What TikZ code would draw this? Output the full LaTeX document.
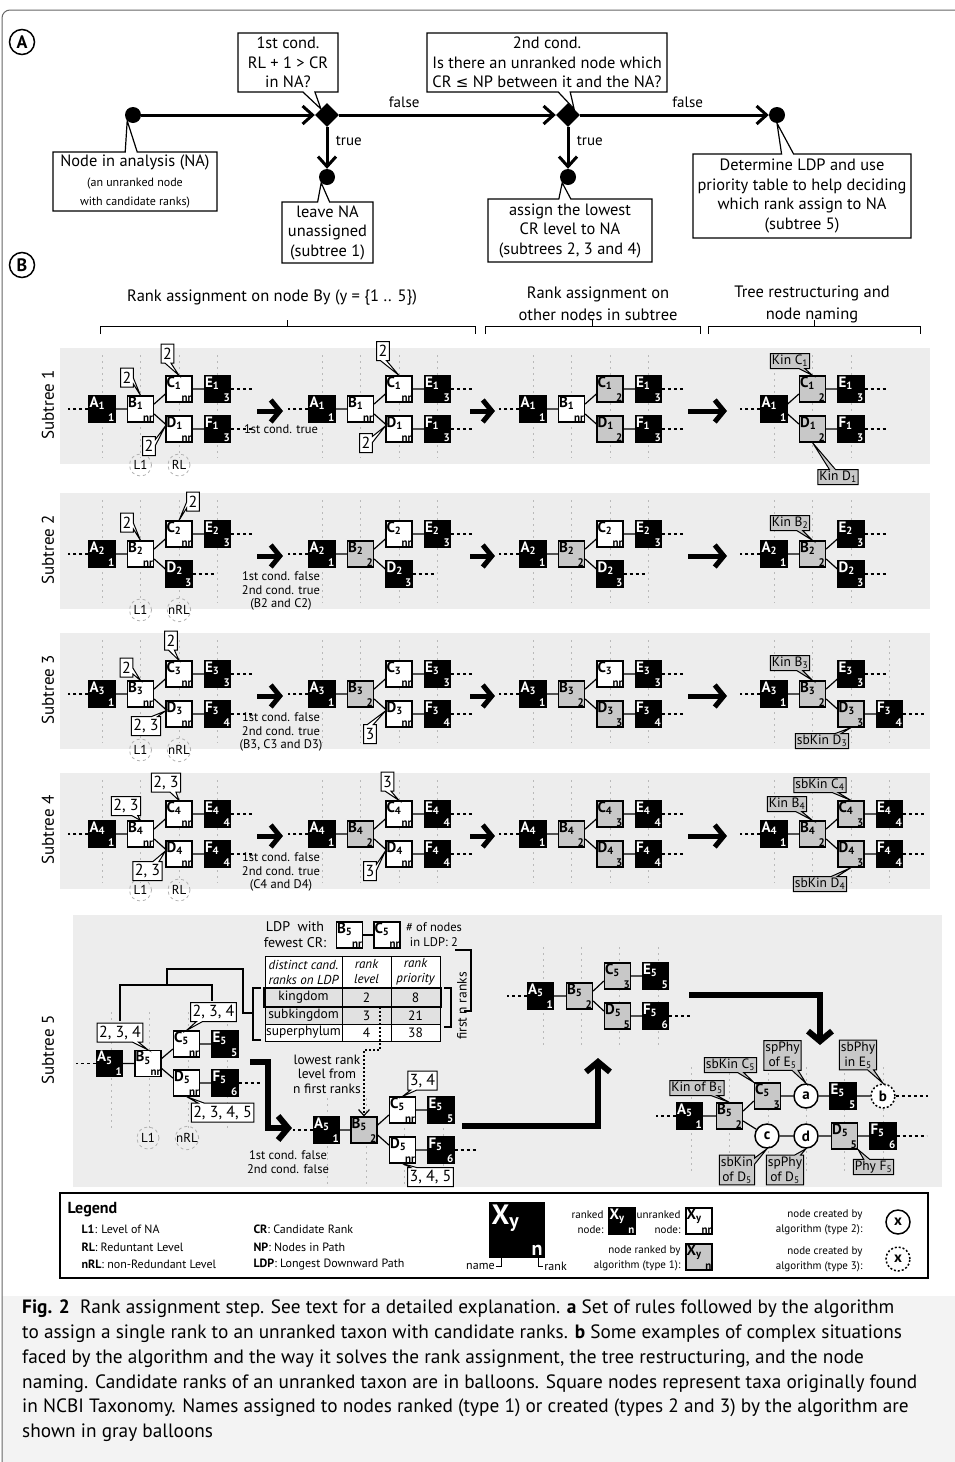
\documentclass[tikz,border=0pt]{standalone}
\usepackage{fontspec}
\setmainfont{PT Sans}
\newfontfamily\symfont{DejaVu Sans}
\usetikzlibrary{arrows.meta,shapes.geometric,shapes.callouts,positioning}

\newcommand{\fsz}[2]{\fontsize{#1}{#2}\selectfont}
\definecolor{bggray}{HTML}{EDEDED}
\definecolor{agray}{HTML}{C8C8C8}
\definecolor{capgray}{HTML}{F3F3F3}

\tikzset{
  taxon/.style={minimum size=26pt, inner sep=0pt, draw=black, line width=1.2pt},
  rk/.style={taxon, fill=black},
  nr/.style={taxon, fill=white},
  ag/.style={taxon, fill=agray},
  tname/.style={anchor=north west, inner sep=1pt, font=\fsz{15}{15}\bfseries},
  trank/.style={anchor=south east, inner sep=1pt, font=\fsz{11}{11}\bfseries},
  edge/.style={line width=1.2pt},
  dashline/.style={line width=1.2pt, dash pattern=on 3pt off 3pt},
  vgrid/.style={line width=0.8pt, gray!55, dash pattern=on 2pt off 4pt},
  lvl/.style={circle, draw=gray!60, dashed, line width=0.8pt, minimum size=22pt, inner sep=0pt, font=\fsz{13}{13}},
  bal/.style={rectangle callout, draw=black, fill=white, line width=1pt, inner sep=2pt,
    minimum height=19pt, font=\fsz{16}{16}, callout pointer width=6pt},
  gbal/.style={bal, fill=agray, minimum height=15pt, inner sep=1.5pt, align=center, font=\fsz{13.5}{15}},
  abal/.style={rectangle callout, draw=black, fill=white, line width=1.2pt, align=center,
    inner sep=2pt, callout pointer width=12pt, font=\fsz{16.4}{19.5}},
  flow/.style={line width=3pt, -{Straight Barb[length=10pt,width=18pt]}},
  bigarrow/.style={line width=5pt, -{Straight Barb[length=9pt,width=22pt]}},
  hugearrow/.style={line width=6pt, -{Straight Barb[length=10pt,width=24pt]}},
  dotarrow/.style={line width=1.2pt, dash pattern=on 2pt off 2pt, -{Straight Barb[length=6pt,width=11pt]}},
  dot/.style={circle, fill=black, minimum size=16pt, inner sep=0pt},
  cond/.style={diamond, fill=black, minimum width=24pt, minimum height=24pt, inner sep=0pt},
  newn/.style={circle, draw=black, fill=white, line width=1.5pt, minimum size=24pt, inner sep=0pt, font=\fsz{15}{15}\bfseries},
  part/.style={circle, draw=black, line width=1.5pt, minimum size=25pt, inner sep=0pt, font=\fsz{18}{18}\bfseries},
  rowlab/.style={rotate=90, font=\fsz{17}{17}},
  note/.style={align=center, font=\fsz{12.5}{13.5}},
  head/.style={align=center, font=\fsz{16.5}{22}},
  lgtext/.style={align=right, anchor=east, font=\fsz{11}{15}},
  flowlab/.style={font=\fsz{15}{15}}
}

% taxa: name, position, letter, index (, rank)
\newcommand{\rnode}[5]{%
  \node[rk] (#1) at (#2) {};
  \node[tname, text=white] at (#1.north west) {#3\textsubscript{#4}};
  \node[trank, text=white] at (#1.south east) {#5};}
\newcommand{\unode}[4]{%
  \node[nr] (#1) at (#2) {};
  \node[tname] at (#1.north west) {#3\textsubscript{#4}};
  \node[trank] at (#1.south east) {nr};}
\newcommand{\anode}[5]{%
  \node[ag] (#1) at (#2) {};
  \node[tname] at (#1.north west) {#3\textsubscript{#4}};
  \node[trank] at (#1.south east) {#5};}
\newcommand{\sixedges}[1]{%
  \draw[edge] (a#1) -- (b#1) (b#1.20) -- (c#1.200) (b#1.340) -- (d#1.160) (c#1) -- (e#1) (d#1) -- (f#1);
  \draw[dashline] (a#1.west) -- ++(-20,0) (e#1.east) -- ++(23,0) (f#1.east) -- ++(23,0);}

\begin{document}
\begin{tikzpicture}[x=1pt, y=-1pt]
\useasboundingbox (0,0) rectangle (955,1462);

% frame and caption background
\fill[capgray] (2,1296) rectangle (955,1462);
\draw[line width=1pt, gray!80!black, rounded corners=8pt] (955,10) -- (2,10) -- (2,1462);

% ===================== A =====================
\node[part] (pA) at (22,42) {A};
\node[dot] (dNA) at (133,115) {};
\node[cond] (dC1) at (327,115) {};
\node[cond] (dC2) at (568,115) {};
\node[dot] (dLDP) at (777,115) {};
\node[dot] (dS1) at (327,177) {};
\node[dot] (dS24) at (568,177) {};
\draw[flow] (dNA) -- (dC1);
\draw[flow] (dC1) -- (dC2) node[pos=0.3, above=2pt, flowlab] (f1) {false};
\draw[flow] (dC2) -- (dLDP) node[pos=0.57, above=2pt, flowlab] (f2) {false};
\draw[flow] (dC1) -- (dS1) node[pos=0.33, right=4pt, flowlab] (t1) {true};
\draw[flow] (dC2) -- (dS24) node[pos=0.33, right=4pt, flowlab] (t2) {true};

\node[abal, minimum width=100pt, minimum height=59pt, callout absolute pointer={(dC1.north west)}] (bQ1) at (288,62.5)
  {1st cond.\\RL + 1 > CR\\in NA?};
\node[abal, minimum width=240pt, minimum height=59pt, callout absolute pointer={(dC2.north east)}] (bQ2) at (547,62.5)
  {2nd cond.\\Is there an unranked node which\\CR {\symfont\fsz{15}{19.5}≤} NP between it and the NA?};
\node[abal, minimum width=164pt, minimum height=59pt, callout absolute pointer={(dNA.south west)}] (bNA) at (135,181.5)
  {\fsz{16.4}{17}Node in analysis (NA)\\\fsz{12}{14}(an unranked node\\\fsz{12}{14}with candidate ranks)};
\node[abal, minimum width=91pt, minimum height=61pt, callout absolute pointer={(dS1.south west)}] (bS1) at (327.5,232.5)
  {leave NA\\unassigned\\(subtree 1)};
\node[abal, minimum width=164pt, minimum height=63pt, callout absolute pointer={(dS24.south west)}] (bS24) at (570,230.5)
  {assign the lowest\\CR level to NA\\(subtrees 2, 3 and 4)};
\node[abal, minimum width=218pt, minimum height=84pt, callout absolute pointer={(dLDP.south)}] (bLDP) at (802,196)
  {Determine LDP and use\\priority table to help deciding\\which rank assign to NA\\(subtree 5)};

% ===================== B =====================
\node[part] (pB) at (22,265) {B};
\node[head] (h1) at (272,298) {Rank assignment on node By (y = \{1 .. 5\})};
\node[head] (h2) at (598,304) {Rank assignment on\\other nodes in subtree};
\node[head] (h3) at (812,304) {Tree restructuring and\\node naming};
\draw[line width=1pt] (100,334) -- (100,326) -- (475,326) -- (475,334) (287.5,326) -- (287.5,320);
\draw[line width=1pt] (485,334) -- (485,326) -- (700,326) -- (700,334) (592.5,326) -- (592.5,320);
\draw[line width=1pt] (708,334) -- (708,326) -- (920,326) -- (920,334) (814,326) -- (814,320);

% row backgrounds, labels, level grid
\foreach \t/\n/\lv in {348/1/RL, 493/2/nRL, 633/3/nRL, 773/4/RL} {
  \fill[bggray] (60,\t) rectangle (930,\t+116);
  \node[rowlab] (lab\n) at (48,\t+57) {Subtree \n};
  \foreach \g in {102,322,533}
    \foreach \i in {0,...,3}
      \draw[vgrid] (\g+38.5*\i,\t+7) -- (\g+38.5*\i,\t+110);
  \node[lvl] (lone\n) at (140.5,\t+117) {L1};
  \node[lvl] (lrl\n) at (179,\t+117) {\lv};
  \draw[bigarrow] (257,\t+63) -- (283,\t+63);
  \draw[bigarrow] (470,\t+63) -- (495,\t+63);
  \draw[bigarrow] (688,\t+63) -- (727,\t+63);
}
\foreach \t/\m in {348/2, 493/2, 633/3, 773/3}
  \foreach \i in {0,...,\m}
    \draw[vgrid] (774+38.5*\i,\t+7) -- (774+38.5*\i,\t+110);

% ---------- Subtree 1 ----------
\rnode{a11}{102,409}{A}{1}{1}   \unode{b11}{140.5,409}{B}{1}
\unode{c11}{179,389}{C}{1}      \unode{d11}{179,429}{D}{1}
\rnode{e11}{217.5,389}{E}{1}{3} \rnode{f11}{217.5,429}{F}{1}{3}
\rnode{a12}{322,409}{A}{1}{1}   \unode{b12}{360.5,409}{B}{1}
\unode{c12}{399,389}{C}{1}      \unode{d12}{399,429}{D}{1}
\rnode{e12}{437.5,389}{E}{1}{3} \rnode{f12}{437.5,429}{F}{1}{3}
\rnode{a13}{533,409}{A}{1}{1}   \unode{b13}{571.5,409}{B}{1}
\anode{c13}{610,389}{C}{1}{2}   \anode{d13}{610,429}{D}{1}{2}
\rnode{e13}{648.5,389}{E}{1}{3} \rnode{f13}{648.5,429}{F}{1}{3}
\foreach \g in {11,12,13} {\sixedges{\g}}
\rnode{a14}{774,409}{A}{1}{1}
\anode{c14}{812.5,389}{C}{1}{2} \anode{d14}{812.5,429}{D}{1}{2}
\rnode{e14}{851,389}{E}{1}{3}   \rnode{f14}{851,429}{F}{1}{3}
\draw[edge] (a14.20) -- (c14.200) (a14.340) -- (d14.160) (c14) -- (e14) (d14) -- (f14);
\draw[dashline] (a14.west) -- ++(-20,0) (e14.east) -- ++(23,0) (f14.east) -- ++(23,0);
\node[note] (n1) at (281,429) {1st cond. true};
\node[bal, callout absolute pointer={(b11.north)}] (q11b) at (127,377.5) {2};
\node[bal, callout absolute pointer={(c11.north)}] (q11c) at (167.5,353.5) {2};
\node[bal, callout absolute pointer={([yshift=3pt]d11.west)}] (q11d) at (149,446) {2};
\node[bal, callout absolute pointer={(c12.north)}] (q12c) at (383,351) {2};
\node[bal, callout absolute pointer={([yshift=3pt]d12.west)}] (q12d) at (366,443) {2};
\node[gbal, callout absolute pointer={(c14.north)}] (k14c) at (790,361) {Kin C\textsubscript{1}};
\node[gbal, callout absolute pointer={(d14.south)}] (k14d) at (838,477) {Kin D\textsubscript{1}};

% ---------- Subtree 2 ----------
\rnode{a21}{102,554}{A}{2}{1}   \unode{b21}{140.5,554}{B}{2}
\unode{c21}{179,534}{C}{2}      \rnode{d21}{179,574}{D}{2}{3}
\rnode{e21}{217.5,534}{E}{2}{3}
\rnode{a22}{322,554}{A}{2}{1}   \anode{b22}{360.5,554}{B}{2}{2}
\unode{c22}{399,534}{C}{2}      \rnode{d22}{399,574}{D}{2}{3}
\rnode{e22}{437.5,534}{E}{2}{3}
\rnode{a23}{533,554}{A}{2}{1}   \anode{b23}{571.5,554}{B}{2}{2}
\unode{c23}{610,534}{C}{2}      \rnode{d23}{610,574}{D}{2}{3}
\rnode{e23}{648.5,534}{E}{2}{3}
\foreach \g in {21,22,23} {
  \draw[edge] (a\g) -- (b\g) (b\g.20) -- (c\g.200) (b\g.340) -- (d\g.160) (c\g) -- (e\g);
  \draw[dashline] (a\g.west) -- ++(-20,0) (e\g.east) -- ++(23,0) (d\g.east) -- ++(23,0);
}
\rnode{a24}{774,554}{A}{2}{1}   \anode{b24}{812.5,554}{B}{2}{2}
\rnode{e24}{851,534}{E}{2}{3}   \rnode{d24}{851,574}{D}{2}{3}
\draw[edge] (a24) -- (b24) (b24.20) -- (e24.200) (b24.340) -- (d24.160);
\draw[dashline] (a24.west) -- ++(-20,0) (e24.east) -- ++(23,0) (d24.east) -- ++(23,0);
\node[note] (n2) at (281,591) {1st cond. false\\2nd cond. true\\(B2 and C2)};
\node[bal, callout absolute pointer={(b21.north)}] (q21b) at (127,522.5) {2};
\node[bal, callout absolute pointer={(c21.north)}] (q21c) at (193,501.5) {2};
\node[gbal, callout absolute pointer={(b24.north)}] (k24b) at (790,523) {Kin B\textsubscript{2}};

% ---------- Subtree 3 ----------
\rnode{a31}{102,694}{A}{3}{1}   \unode{b31}{140.5,694}{B}{3}
\unode{c31}{179,674}{C}{3}      \unode{d31}{179,714}{D}{3}
\rnode{e31}{217.5,674}{E}{3}{3} \rnode{f31}{217.5,714}{F}{3}{4}
\rnode{a32}{322,694}{A}{3}{1}   \anode{b32}{360.5,694}{B}{3}{2}
\unode{c32}{399,674}{C}{3}      \unode{d32}{399,714}{D}{3}
\rnode{e32}{437.5,674}{E}{3}{3} \rnode{f32}{437.5,714}{F}{3}{4}
\rnode{a33}{533,694}{A}{3}{1}   \anode{b33}{571.5,694}{B}{3}{2}
\unode{c33}{610,674}{C}{3}      \anode{d33}{610,714}{D}{3}{3}
\rnode{e33}{648.5,674}{E}{3}{3} \rnode{f33}{648.5,714}{F}{3}{4}
\foreach \g in {31,32,33} {\sixedges{\g}}
\rnode{a34}{774,694}{A}{3}{1}   \anode{b34}{812.5,694}{B}{3}{2}
\rnode{e34}{851,674}{E}{3}{3}   \anode{d34}{851,714}{D}{3}{3}
\rnode{f34}{889.5,714}{F}{3}{4}
\draw[edge] (a34) -- (b34) (b34.20) -- (e34.200) (b34.340) -- (d34.160) (d34) -- (f34);
\draw[dashline] (a34.west) -- ++(-20,0) (e34.east) -- ++(23,0) (f34.east) -- ++(23,0);
\node[note] (n3) at (281,732) {1st cond. false\\2nd cond. true\\(B3, C3 and D3)};
\node[bal, callout absolute pointer={(b31.north)}] (q31b) at (126.5,667.5) {2};
\node[bal, callout absolute pointer={(c31.north)}] (q31c) at (171,640.5) {2};
\node[bal, callout absolute pointer={([yshift=3pt]d31.west)}] (q31d) at (146,726) {2, 3};
\node[bal, callout absolute pointer={([yshift=3pt]d32.west)}] (q32d) at (370,734) {3};
\node[gbal, callout absolute pointer={(b34.north)}] (k34b) at (790,663) {Kin B\textsubscript{3}};
\node[gbal, callout absolute pointer={(d34.south)}] (k34d) at (822,741) {sbKin D\textsubscript{3}};

% ---------- Subtree 4 ----------
\rnode{a41}{102,834}{A}{4}{1}   \unode{b41}{140.5,834}{B}{4}
\unode{c41}{179,814}{C}{4}      \unode{d41}{179,854}{D}{4}
\rnode{e41}{217.5,814}{E}{4}{4} \rnode{f41}{217.5,854}{F}{4}{4}
\rnode{a42}{322,834}{A}{4}{1}   \anode{b42}{360.5,834}{B}{4}{2}
\unode{c42}{399,814}{C}{4}      \unode{d42}{399,854}{D}{4}
\rnode{e42}{437.5,814}{E}{4}{4} \rnode{f42}{437.5,854}{F}{4}{4}
\rnode{a43}{533,834}{A}{4}{1}   \anode{b43}{571.5,834}{B}{4}{2}
\anode{c43}{610,814}{C}{4}{3}   \anode{d43}{610,854}{D}{4}{3}
\rnode{e43}{648.5,814}{E}{4}{4} \rnode{f43}{648.5,854}{F}{4}{4}
\foreach \g in {41,42,43} {\sixedges{\g}}
\rnode{a44}{774,834}{A}{4}{1}   \anode{b44}{812.5,834}{B}{4}{2}
\anode{c44}{851,814}{C}{4}{3}   \anode{d44}{851,854}{D}{4}{3}
\rnode{e44}{889.5,814}{E}{4}{4} \rnode{f44}{889.5,854}{F}{4}{4}
\draw[edge] (a44) -- (b44) (b44.20) -- (c44.200) (b44.340) -- (d44.160) (c44) -- (e44) (d44) -- (f44);
\draw[dashline] (a44.west) -- ++(-20,0) (e44.east) -- ++(23,0) (f44.east) -- ++(23,0);
\node[note] (n4) at (281,872) {1st cond. false\\2nd cond. true\\(C4 and D4)};
\node[bal, callout absolute pointer={(b41.north)}] (q41b) at (126,806) {2, 3};
\node[bal, callout absolute pointer={(c41.north)}] (q41c) at (166,782.5) {2, 3};
\node[bal, callout absolute pointer={([yshift=3pt]d41.west)}] (q41d) at (147.5,871) {2, 3};
\node[bal, callout absolute pointer={(c42.north)}] (q42c) at (387.5,781.5) {3};
\node[bal, callout absolute pointer={([yshift=3pt]d42.west)}] (q42d) at (370,871) {3};
\node[gbal, callout absolute pointer={(c44.north)}] (k44c) at (820,785) {sbKin C\textsubscript{4}};
\node[gbal, callout absolute pointer={(b44.north)}] (k44b) at (787,804) {Kin B\textsubscript{4}};
\node[gbal, callout absolute pointer={(d44.south)}] (k44d) at (820,884) {sbKin D\textsubscript{4}};

% ---------- Subtree 5 ----------
\fill[bggray] (73,915) rectangle (942,1187);
\node[rowlab] (lab5) at (48,1050) {Subtree 5};
\foreach \cx in {111,149,188,227} \draw[vgrid] (\cx,1012) -- (\cx,1128);
\foreach \cx in {327,366,404,443} \draw[vgrid] (\cx,1098) -- (\cx,1185);
\foreach \cx in {543,581,619,658} \draw[vgrid] (\cx,947) -- (\cx,1048);
\foreach \cx in {691,729,768,806,844,883} \draw[vgrid] (\cx,1067) -- (\cx,1172);
\node[lvl] (lone5) at (148,1138) {L1};
\node[lvl] (lrl5) at (187,1138) {nRL};

% left tree with its clades
\draw[line width=1.2pt] (120,1021) -- (120,985) -- (212,985) -- (212,1001)
  (167,985) -- (167,969) -- (243,969) -- (243,1013) -- (253,1013)
  (261,988) -- (253,988) -- (253,1040) -- (261,1040);
\rnode{a51}{109.5,1063.5}{A}{5}{1} \unode{b51}{148,1063.5}{B}{5}
\unode{c51}{186.5,1044}{C}{5}      \unode{d51}{186.5,1083}{D}{5}
\rnode{e51}{225,1044}{E}{5}{5}     \rnode{f51}{225,1083}{F}{5}{6}
\draw[edge] (a51) -- (b51) (b51.20) -- (c51.200) (b51.340) -- (d51.160) (c51) -- (e51) (d51) -- (f51);
\draw[dashline] (a51.west) -- ++(-20,0) (f51.east) -- ++(23,0);
\node[bal, callout absolute pointer={(b51.north)}] (q51b) at (120,1032.5) {2, 3, 4};
\node[bal, callout absolute pointer={(c51.north)}] (q51c) at (213.5,1012) {2, 3, 4};
\node[bal, callout absolute pointer={(d51.south)}] (q51d) at (222.5,1112.5) {2, 3, 4, 5};

% LDP and priority table
\node[align=center, font=\fsz{14}{16}] (ldpt) at (295,935) {LDP\ \ with\\fewest CR:};
\unode{lb}{349.5,935}{B}{5} \unode{lc}{387,935}{C}{5}
\draw[edge] (lb) -- (lc);
\node[align=center, font=\fsz{12.5}{15}] (ldpn) at (434,935) {\# of nodes\\in LDP: 2};
\draw[line width=1.2pt] (455,950) -- (471,950) -- (471,1011) -- (464,1011);
\fill[white] (265,956) rectangle (440,1041);
\fill[agray!55] (265,988) rectangle (440,1024);
\draw[line width=1pt] (265,956) rectangle (440,1041)
  (342,956) -- (342,1041) (391,956) -- (391,1041)
  (265,988) -- (440,988) (265,1007) -- (440,1007) (265,1024) -- (440,1024);
\draw[line width=2.5pt] (264,988) rectangle (441,1007);
\foreach \cx/\tx in {303.5/{distinct cand.\\ranks on LDP}, 366.5/{rank\\level}, 415.5/{rank\\priority}}
  \node[align=center, font=\fsz{13}{15}\itshape] at (\cx,972) {\tx};
\foreach \ry/\ra/\rb/\rc in {997.5/kingdom/2/8, 1015.5/subkingdom/3/21, 1032.5/superphylum/4/38} {
  \node[font=\fsz{13.5}{13.5}] at (303.5,\ry) {\ra};
  \node[font=\fsz{13.5}{13.5}] at (366.5,\ry) {\rb};
  \node[font=\fsz{13.5}{13.5}] at (415.5,\ry) {\rc};
}
\draw[line width=1.2pt] (444,988) -- (451,988) -- (451,1027) -- (444,1027);
\node[rotate=90, font=\fsz{13.5}{13.5}] (fnr) at (462,1006) {first n ranks};
\coordinate (klev) at (380,1007);

% second tree
\rnode{a52}{326.5,1130}{A}{5}{1} \anode{b52}{364,1130}{B}{5}{2}
\unode{c52}{402.5,1110}{C}{5}    \unode{d52}{402.5,1150}{D}{5}
\rnode{e52}{441,1110}{E}{5}{5}   \rnode{f52}{441,1150}{F}{5}{6}
\draw[edge] (a52) -- (b52) (b52.20) -- (c52.200) (b52.340) -- (d52.160) (c52) -- (e52) (d52) -- (f52);
\draw[dashline] (a52.west) -- ++(-20,0) (f52.east) -- ++(23,0);
\node[bal, callout absolute pointer={(c52.north)}] (q52c) at (422.5,1080.5) {3, 4};
\node[bal, callout absolute pointer={(d52.south)}] (q52d) at (430.5,1177) {3, 4, 5};
\node[note] (n5) at (288,1162) {1st cond. false\\2nd cond. false};
\node[note, font=\fsz{13.5}{14.5}] (n5b) at (327,1074) {lowest rank\\level from\\n first ranks};
\draw[dotarrow] (klev) -- (380,1050) -| (b52.north);

% third tree
\rnode{a53}{540.5,996}{A}{5}{1}  \anode{b53}{579.5,996}{B}{5}{2}
\anode{c53}{617.5,976}{C}{5}{3}  \anode{d53}{617.5,1016}{D}{5}{5}
\rnode{e53}{655.5,976}{E}{5}{5}  \rnode{f53}{655.5,1016}{F}{5}{6}
\draw[edge] (a53) -- (b53) (b53.20) -- (c53.200) (b53.340) -- (d53.160) (c53) -- (e53) (d53) -- (f53);
\draw[dashline] (a53.west) -- ++(-20,0) (f53.east) -- ++(23,0);

% restructured tree
\rnode{a54}{689.5,1116}{A}{5}{1} \anode{b54}{729.5,1116}{B}{5}{2}
\anode{c54}{767.5,1096}{C}{5}{3}
\node[newn] (xa) at (806,1096) {a};
\rnode{e54}{843,1096}{E}{5}{5}
\node[newn, dash pattern=on 2pt off 2pt] (xb) at (883,1096) {b};
\node[newn] (xc) at (767,1136) {c};
\node[newn] (xd) at (806,1136) {d};
\anode{d54}{844.5,1136}{D}{5}{5}
\rnode{f54}{883,1136}{F}{5}{6}
\draw[edge] (a54) -- (b54) (b54.20) -- (c54.200) (b54.340) -- (xc) (c54) -- (xa) -- (e54) -- (xb)
  (xc) -- (xd) -- (d54) -- (f54);
\draw[dashline] (a54.west) -- ++(-20,0) (xb.east) -- ++(32,0) (f54.east) -- ++(30,0);
\node[gbal, callout absolute pointer={(b54.north)}] (k54b) at (697,1088) {Kin of B\textsubscript{5}};
\node[gbal, callout absolute pointer={(c54.north west)}] (k54c) at (730.5,1065) {sbKin C\textsubscript{5}};
\node[gbal, callout absolute pointer={(xa.north)}] (k54a) at (782.5,1055.5) {spPhy\\of E\textsubscript{5}};
\node[gbal, callout absolute pointer={(xb.north)}] (k54x) at (858,1055) {sbPhy\\in E\textsubscript{5}};
\node[gbal, callout absolute pointer={(xc.south)}] (k54y) at (737,1170) {sbKin\\of D\textsubscript{5}};
\node[gbal, callout absolute pointer={(xd.south)}] (k54z) at (785,1170) {spPhy\\of D\textsubscript{5}};
\node[gbal, callout absolute pointer={(d54.south east)}] (k54f) at (873.5,1167) {Phy F\textsubscript{5}};

% step arrows of subtree 5
\draw[hugearrow] (250,1062) -- (268,1062) -- (268,1128) -- (292,1128);
\draw[hugearrow] (462,1126) -- (598,1126) -- (598,1058);
\draw[hugearrow] (689,995) -- (820,995) -- (820,1045);

% ===================== legend =====================
\draw[line width=1.5pt] (60,1193) rectangle (928,1278);
\node[anchor=west, font=\fsz{16}{16}\bfseries] (lg) at (64,1210) {Legend};
\foreach \ly/\la/\lb in {1229/{\textbf{L1}: Level of NA}/{\textbf{CR}: Candidate Rank},
    1247/{\textbf{RL}: Reduntant Level}/{\textbf{NP}: Nodes in Path},
    1264/{\textbf{nRL}: non-Redundant Level}/{\textbf{LDP}: Longest Downward Path}} {
  \node[anchor=west, font=\fsz{12}{12}] at (78,\ly) {\la};
  \node[anchor=west, font=\fsz{12}{12}] at (250,\ly) {\lb};
}
\node[rk, minimum size=54pt] (lgx) at (517,1230) {};
\node[anchor=north west, inner sep=2pt, text=white, font=\fsz{28}{28}\bfseries] at (lgx.north west) {X\textsubscript{y}};
\node[anchor=south east, inner sep=2pt, text=white, font=\fsz{20}{20}\bfseries] at (lgx.south east) {n};
\draw[line width=0.8pt] (501,1250) |- (496,1266) node[anchor=east, inner sep=1pt, font=\fsz{12}{12}] {name};
\draw[line width=0.8pt] (538,1250) |- (543,1266) node[anchor=west, inner sep=1pt, font=\fsz{12}{12}] {rank};
\node[lgtext] (lr) at (607,1222) {ranked\\node:};
\rnode{lgr}{622,1221}{X}{y}{n}
\node[lgtext] (lu) at (684,1222) {unranked\\node:};
\unode{lgu}{699,1221}{X}{y}
\node[lgtext] (la) at (684,1258) {node ranked by\\algorithm (type 1):};
\anode{lga}{699,1257}{X}{y}{n}
\node[lgtext] (lc2) at (866,1222) {node created by\\algorithm (type 2):};
\node[newn] (lx2) at (898,1222) {x};
\node[lgtext] (lc3) at (866,1259) {node created by\\algorithm (type 3):};
\node[newn, dash pattern=on 2pt off 2pt] (lx3) at (898,1259) {x};

% ===================== caption =====================
\node[anchor=north west, align=left, inner sep=0pt, font=\fsz{19.3}{24.7}] (cap) at (22,1300)
 {\textbf{Fig. 2}\ \ Rank assignment step. See text for a detailed explanation. \textbf{a} Set of rules followed by the algorithm\\
  to assign a single rank to an unranked taxon with candidate ranks. \textbf{b} Some examples of complex situations\\
  faced by the algorithm and the way it solves the rank assignment, the tree restructuring, and the node\\
  naming. Candidate ranks of an unranked taxon are in balloons. Square nodes represent taxa originally found\\
  in NCBI Taxonomy. Names assigned to nodes ranked (type 1) or created (types 2 and 3) by the algorithm are\\
  shown in gray balloons};
\end{tikzpicture}
\end{document}
